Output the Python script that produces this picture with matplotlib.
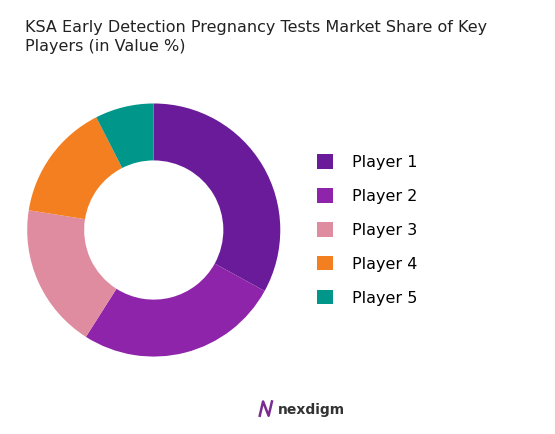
import matplotlib.pyplot as plt
from matplotlib.lines import Line2D

labels = ["Player 1", "Player 2", "Player 3", "Player 4", "Player 5"]
values = [33, 26, 18.5, 15, 7.5]
colors = ["#6A1B9A", "#8E24AA", "#E08CA0", "#F47F20", "#00968A"]

fig = plt.figure(figsize=(5.55, 4.34), dpi=100)
ax = fig.add_axes([-0.008, 0.105, 0.57, 0.73])
wedges, _ = ax.pie(values, colors=colors, startangle=90, counterclock=False,
                   wedgeprops=dict(width=0.45, edgecolor="none"))
ax.set_aspect("equal")
fig.text(0.045, 0.955, "KSA Early Detection Pregnancy Tests Market Share of Key\nPlayers (in Value %)",
         fontsize=11.5, va="top", ha="left", color="#222222", linespacing=1.4)
fig.legend(wedges, labels, loc="center left", bbox_to_anchor=(0.545, 0.47),
           frameon=False, fontsize=11.5, handlelength=1.0, handleheight=1.0,
           labelspacing=1.15, handletextpad=1.2)
fig.text(0.5, 0.045, "nexdigm", fontsize=10, ha="left", color="#333333", fontweight="bold")
fig.add_artist(Line2D([0.468, 0.474, 0.484, 0.490], [0.042, 0.075, 0.042, 0.075],
                      transform=fig.transFigure, color="#7B2C8E", lw=1.8))
fig.savefig("out.png", dpi=100)
